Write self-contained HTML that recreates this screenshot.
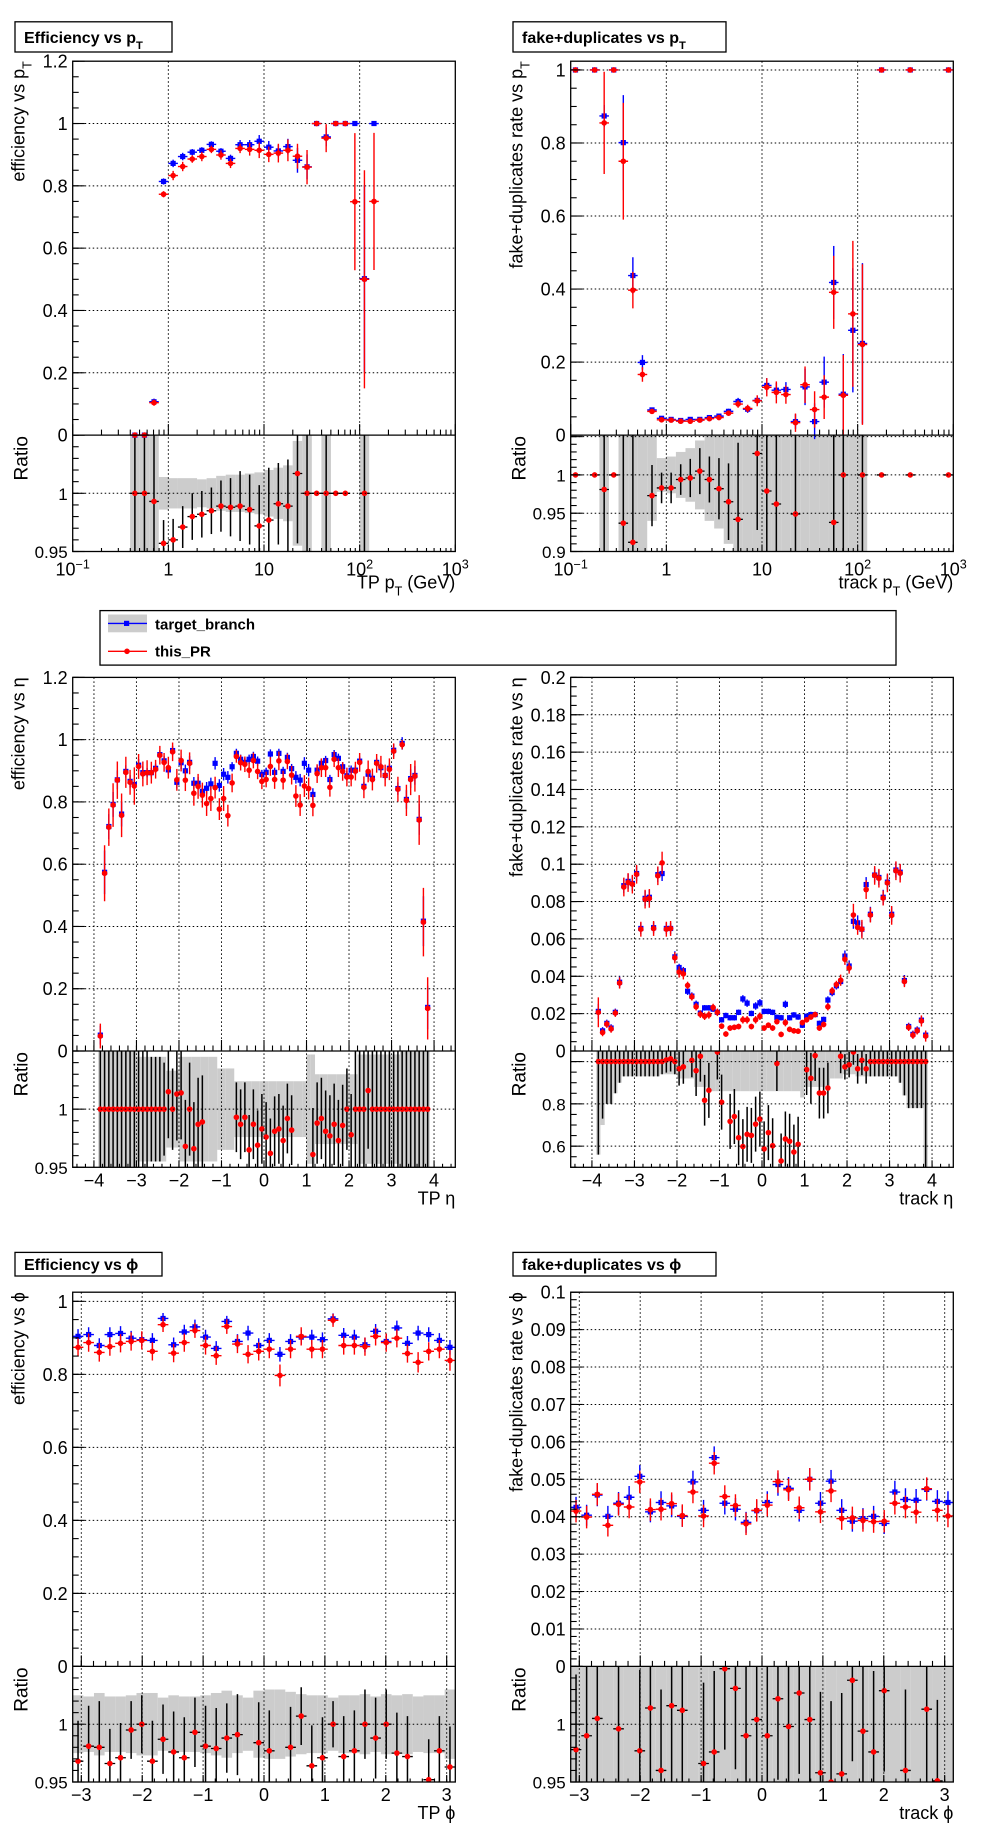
<!DOCTYPE html>
<html><head><meta charset="utf-8">
<style>
html,body{margin:0;padding:0;background:#fff;}
svg{display:block;font-family:"Liberation Sans",sans-serif;}
</style></head>
<body>
<svg id="c" width="996" height="1847" viewBox="0 0 996 1847" xmlns="http://www.w3.org/2000/svg">
<rect x="0" y="0" width="996" height="1847" fill="#fff"/>
</svg>
<script>
// ===== Panel 1: efficiency vs pT =====
const p1LogPt=[-0.35,-0.25,-0.15,-0.05,0.05,0.15,0.25,0.35,0.45,0.55,0.65,0.75,0.85,0.95,1.05,1.15,1.25,1.35,1.45,1.55,1.65,1.75,1.85,1.95,2.05,2.15];
const p1Blue=[0,0,0.107,0.814,0.872,0.894,0.908,0.914,0.933,0.911,0.888,0.932,0.932,0.943,0.924,0.912,0.926,0.882,0.861,1,0.957,1,1,1,0.502,1];
const p1BlueErr=[0,0,0.01,0.01,0.012,0.012,0.01,0.01,0.01,0.01,0.012,0.015,0.015,0.02,0.02,0.02,0.025,0.04,0.04,0,0.03,0,0,0,0.3,0];
const p1Red=[0,0,0.104,0.773,0.833,0.862,0.886,0.894,0.917,0.899,0.872,0.92,0.917,0.914,0.901,0.905,0.914,0.895,0.86,1,0.953,1,1,0.749,0.5,0.75];
const p1RedErr=[0,0,0.01,0.01,0.015,0.015,0.012,0.015,0.012,0.015,0.015,0.015,0.02,0.025,0.025,0.03,0.035,0.04,0.055,0,0.045,0,0,0.22,0.35,0.22];
const p1Ratio=[1,1,0.993,0.957,0.96,0.971,0.98,0.982,0.985,0.989,0.988,0.989,0.986,0.972,0.977,0.991,0.989,1.017,1,1,1,1,1,null,1,null];
const p1RatioErr=[0.06,0.06,0.06,0.02,0.018,0.018,0.02,0.02,0.02,0.022,0.025,0.03,0.03,0.035,0.045,0.035,0.04,0.06,0.06,0,0.06,0,0,0,0.06,0];
const p1Band=[0.06,0.06,0.06,0.014,0.013,0.013,0.013,0.012,0.013,0.015,0.016,0.016,0.017,0.018,0.02,0.022,0.024,0.045,0.06,0,0.06,0,0,0,0.06,0];

// ===== Panel 2: fake+duplicates vs pT =====
const p2LogPt=[-0.95,-0.75,-0.65,-0.55,-0.45,-0.35,-0.25,-0.15,-0.05,0.05,0.15,0.25,0.35,0.45,0.55,0.65,0.75,0.85,0.95,1.05,1.15,1.25,1.35,1.45,1.55,1.65,1.75,1.85,1.95,2.05,2.25,2.55,2.95];
const p2Blue=[1,1,0.874,1,0.801,0.437,0.199,0.069,0.046,0.043,0.040,0.043,0.043,0.048,0.052,0.065,0.092,0.071,0.095,0.136,0.123,0.125,0.037,0.132,0.037,0.145,0.418,0.112,0.287,0.251,1,1,1];
const p2BlueErr=[0,0,0.03,0,0.13,0.05,0.02,0.006,0.004,0.004,0.004,0.004,0.004,0.005,0.006,0.007,0.01,0.01,0.012,0.02,0.02,0.02,0.02,0.05,0.05,0.07,0.1,0.11,0.17,0.22,0,0,0];
const p2Red=[1,1,0.855,1,0.75,0.397,0.166,0.065,0.042,0.041,0.038,0.038,0.041,0.045,0.048,0.060,0.085,0.073,0.094,0.131,0.117,0.111,0.034,0.138,0.070,0.104,0.391,0.109,0.332,0.248,1,1,1];
const p2RedErr=[0,0,0.14,0,0.16,0.05,0.02,0.006,0.004,0.004,0.004,0.004,0.004,0.005,0.006,0.007,0.01,0.01,0.015,0.025,0.03,0.025,0.025,0.05,0.05,0.06,0.1,0.11,0.2,0.22,0,0,0];
const p2Ratio=[1,1,0.981,1,0.937,0.912,null,0.973,0.983,0.983,0.994,0.996,1.005,0.994,0.982,0.965,0.942,null,1.028,0.979,0.962,null,0.949,null,null,null,0.938,1,null,1,1,1,1];
const p2RatioErr=[0,0,0.2,0,0.2,0.2,0.2,0.04,0.02,0.02,0.02,0.025,0.03,0.03,0.04,0.05,0.1,0.1,0.1,0.1,0.1,0.1,0.2,0.2,0.2,0.2,0.2,0.2,0.2,0.2,0,0,0];
const p2Band=[0,0,0.2,0,0.2,0.2,0.2,0.06,0.022,0.024,0.03,0.035,0.045,0.06,0.07,0.09,0.2,0.2,0.2,0.2,0.2,0.2,0.2,0.2,0.2,0.2,0.2,0.2,0.2,0.2,0,0,0];

// ===== Panel 3: efficiency vs eta =====
const p3Eta=[-3.85,-3.75,-3.65,-3.55,-3.45,-3.35,-3.25,-3.15,-3.05,-2.95,-2.85,-2.75,-2.65,-2.55,-2.45,-2.35,-2.25,-2.15,-2.05,-1.95,-1.85,-1.75,-1.65,-1.55,-1.45,-1.35,-1.25,-1.15,-1.05,-0.95,-0.85,-0.75,-0.65,-0.55,-0.45,-0.35,-0.25,-0.15,-0.05,0.05,0.15,0.25,0.35,0.45,0.55,0.65,0.75,0.85,0.95,1.05,1.15,1.25,1.35,1.45,1.55,1.65,1.75,1.85,1.95,2.05,2.15,2.25,2.35,2.45,2.55,2.65,2.75,2.85,2.95,3.05,3.15,3.25,3.35,3.45,3.55,3.65,3.75,3.85];
const p3Blue=[0.051,0.574,0.721,0.792,0.871,0.761,0.898,0.866,0.856,0.918,
0.894,0.894,0.894,0.908,0.952,0.932,0.903,0.965,0.863,0.926,
0.9,0.927,0.86,0.86,0.834,0.844,0.858,0.924,0.853,0.889,
0.879,0.913,0.956,0.937,0.927,0.937,0.946,0.931,0.888,0.895,
0.954,0.895,0.956,0.898,0.943,0.907,0.879,0.87,0.924,0.902,
0.824,0.902,0.924,0.933,0.872,0.952,0.94,0.913,0.884,0.902,
0.902,0.931,0.85,0.889,0.876,0.927,0.91,0.885,0.908,0.966,
0.843,0.988,0.808,0.875,0.885,0.744,0.417,0.14];
const p3BlueErr=[0.03,0.07,0.04,0.04,0.03,0.04,0.02,0.02,0.02,0.02,
0.02,0.015,0.015,0.015,0.015,0.015,0.015,0.015,0.02,0.02,
0.02,0.02,0.02,0.02,0.02,0.02,0.02,0.02,0.02,0.02,
0.02,0.015,0.015,0.015,0.015,0.015,0.015,0.015,0.015,0.015,
0.015,0.015,0.015,0.015,0.015,0.015,0.02,0.02,0.02,0.02,
0.02,0.015,0.015,0.015,0.015,0.015,0.015,0.015,0.015,0.015,
0.015,0.015,0.015,0.015,0.015,0.015,0.015,0.015,0.015,0.02,
0.02,0.02,0.03,0.03,0.03,0.05,0.08,0.07];
const p3Red=[0.048,0.571,0.719,0.79,0.87,0.757,0.895,0.863,0.851,0.914,
0.89,0.894,0.894,0.905,0.95,0.927,0.91,0.961,0.871,0.933,
0.87,0.924,0.828,0.85,0.822,0.795,0.811,0.846,0.777,0.811,
0.756,0.861,0.946,0.926,0.921,0.902,0.933,0.898,0.866,0.872,
0.914,0.872,0.932,0.87,0.93,0.886,0.819,0.79,0.851,0.843,
0.789,0.891,0.91,0.91,0.847,0.937,0.91,0.898,0.88,0.88,
0.899,0.927,0.847,0.898,0.872,0.924,0.913,0.885,0.905,0.963,
0.841,0.984,0.805,0.872,0.883,0.742,0.414,0.137];
const p3RedErr=[0.04,0.09,0.06,0.07,0.06,0.07,0.05,0.04,0.06,0.04,
0.04,0.04,0.035,0.03,0.03,0.03,0.035,0.03,0.035,0.035,
0.035,0.035,0.04,0.04,0.04,0.04,0.04,0.035,0.035,0.04,
0.035,0.03,0.02,0.025,0.025,0.025,0.025,0.025,0.025,0.025,
0.03,0.03,0.03,0.03,0.025,0.03,0.035,0.035,0.035,0.035,
0.035,0.03,0.03,0.03,0.03,0.025,0.03,0.03,0.03,0.03,
0.03,0.03,0.035,0.035,0.035,0.03,0.035,0.035,0.035,0.025,
0.04,0.015,0.05,0.05,0.05,0.08,0.11,0.1];
const p3Ratio=[1,1,1,1,1,1,1,1,1,1,
1,1,1,1,1,1,1.015,1,1.013,1.014,
0.968,1,0.966,0.987,0.989,null,null,null,null,null,
null,null,0.993,0.987,0.993,0.965,0.987,0.969,0.983,0.976,
0.962,0.981,0.983,0.973,0.992,0.982,null,null,null,null,
0.961,0.988,0.992,0.981,0.977,0.987,0.973,0.986,1,0.978,
1,1,1,1.016,1,1,1,1,1,1,
1,1,1,1,1,1,1,1];
const p3RatioErr=[0.06,0.06,0.06,0.06,0.06,0.06,0.06,0.06,0.06,0.06,
0.05,0.05,0.045,0.045,0.045,0.04,0.04,0.035,0.04,0.04,
0.04,0.04,0.04,0.04,0.04,0.04,0.04,0.04,0.04,0.04,
0.035,0.035,0.03,0.03,0.03,0.03,0.03,0.03,0.03,0.03,
0.03,0.03,0.03,0.03,0.03,0.03,0.04,0.04,0.04,0.04,
0.04,0.035,0.035,0.035,0.035,0.035,0.035,0.035,0.035,0.035,
0.05,0.05,0.05,0.05,0.05,0.05,0.05,0.05,0.05,0.05,
0.06,0.06,0.06,0.06,0.06,0.06,0.06,0.06];
const p3Band=[0.06,0.06,0.06,0.06,0.06,0.06,0.06,0.06,0.06,0.045,
0.045,0.045,0.045,0.045,0.045,0.045,0.033,0.033,0.033,0.045,
0.045,0.045,0.045,0.045,0.045,0.045,0.045,0.045,0.035,0.035,
0.035,0.035,0.024,0.024,0.024,0.024,0.024,0.024,0.024,0.024,
0.024,0.024,0.024,0.024,0.024,0.024,0.024,0.024,0.024,0.047,
0.047,0.03,0.03,0.03,0.03,0.03,0.03,0.03,0.03,0.03,
0.03,0.047,0.047,0.047,0.047,0.047,0.047,0.047,0.047,0.047,
0.047,0.06,0.06,0.06,0.06,0.06,0.06,0.06];

// ===== Panel 4: fake+duplicates vs eta =====
const p4Eta=p3Eta.slice();
const p4Blue=[0.0212,0.0108,0.0148,0.0123,0.0207,0.0368,0.0885,0.0908,0.0897,0.095,
0.0656,0.0817,0.0823,0.066,0.0944,0.095,0.0656,0.0656,0.0504,0.0447,
0.043,0.032,0.0294,0.025,0.0203,0.0231,0.0231,0.0224,0.0207,0.0167,
0.019,0.0178,0.0178,0.0207,0.0279,0.0256,0.0201,0.0241,0.0258,0.0212,
0.0212,0.0207,0.018,0.0178,0.025,0.0178,0.0193,0.0182,0.0138,0.0186,
0.0195,0.0195,0.0148,0.0169,0.0273,0.0313,0.0349,0.0372,0.0508,0.0455,
0.0694,0.0686,0.0652,0.0891,0.0732,0.0942,0.0929,0.0823,0.0904,0.0732,
0.0969,0.0957,0.0377,0.0131,0.0089,0.0112,0.0165,0.0085];
const p4BlueErr=[0.004,0.002,0.002,0.002,0.002,0.003,0.004,0.004,0.004,0.004,
0.003,0.004,0.004,0.003,0.004,0.004,0.003,0.003,0.003,0.002,
0.002,0.002,0.002,0.002,0.0015,0.0015,0.0015,0.0015,0.0015,0.0015,
0.0015,0.0015,0.0015,0.0015,0.002,0.002,0.0015,0.002,0.002,0.0015,
0.0015,0.0015,0.0015,0.0015,0.002,0.0015,0.0015,0.0015,0.0015,0.0015,
0.0015,0.0015,0.0015,0.0015,0.002,0.002,0.002,0.002,0.003,0.003,
0.004,0.004,0.004,0.004,0.004,0.004,0.004,0.004,0.004,0.004,
0.004,0.004,0.003,0.002,0.002,0.002,0.002,0.002];
const p4Red=[0.0207,0.0099,0.0144,0.0118,0.0203,0.0364,0.0878,0.0902,0.0893,0.0946,
0.0652,0.0813,0.0817,0.0656,0.0938,0.1007,0.0652,0.0656,0.0499,0.0423,
0.0413,0.0351,0.029,0.0237,0.0197,0.0186,0.0193,0.0233,0.0207,0.0133,
0.0091,0.0123,0.0127,0.0131,0.0167,0.0167,0.0131,0.0167,0.0186,0.0123,
0.0138,0.0123,0.0157,0.0089,0.0152,0.0116,0.0108,0.0106,0.0152,0.0167,
0.0182,0.0195,0.0123,0.0142,0.0237,0.0322,0.0356,0.0379,0.0491,0.0444,
0.0728,0.0662,0.0652,0.0864,0.0728,0.094,0.0925,0.0819,0.09,0.0726,
0.0965,0.0952,0.0372,0.0127,0.0085,0.0108,0.0161,0.008];
const p4RedErr=[0.008,0.002,0.002,0.002,0.002,0.003,0.005,0.005,0.005,0.005,
0.004,0.005,0.005,0.004,0.005,0.006,0.004,0.004,0.003,0.003,
0.003,0.002,0.002,0.002,0.002,0.002,0.002,0.002,0.002,0.0015,
0.0015,0.0015,0.0015,0.0015,0.002,0.002,0.0015,0.002,0.002,0.0015,
0.0015,0.0015,0.0015,0.0015,0.002,0.0015,0.0015,0.0015,0.0015,0.0015,
0.0015,0.0015,0.0015,0.0015,0.002,0.002,0.002,0.003,0.003,0.003,
0.006,0.004,0.005,0.005,0.004,0.005,0.005,0.004,0.005,0.005,
0.005,0.005,0.003,0.002,0.002,0.002,0.003,0.003];
const p4Ratio=[1,1,1,1,1,1,1,1,1,1,
1,1,1,1,1,1,1.008,1.013,1,0.966,
0.975,null,1.006,0.957,1.025,0.817,0.864,null,1.045,0.808,
null,0.717,0.74,0.64,0.598,0.656,0.651,0.704,0.728,0.587,
0.664,0.602,0.991,0.53,0.634,0.623,0.572,0.609,null,0.962,
0.921,1.028,0.851,0.851,0.875,null,null,1.025,0.975,0.985,
1.045,0.966,1.006,0.966,1,1,1,1,1,1,
1,1,1,1,1,1,1,1];
const p4RatioErr=[0.44,0.27,0.2,0.2,0.15,0.1,0.07,0.07,0.07,0.07,
0.07,0.07,0.07,0.07,0.07,0.06,0.06,0.06,0.06,0.08,
0.08,0.08,0.08,0.12,0.12,0.12,0.13,0.13,0.13,0.13,
0.13,0.13,0.13,0.13,0.13,0.13,0.13,0.13,0.13,0.13,
0.13,0.13,0.13,0.13,0.13,0.13,0.13,0.13,0.15,0.12,
0.12,0.12,0.12,0.12,0.12,0.08,0.08,0.08,0.06,0.06,
0.06,0.07,0.07,0.07,0.07,0.07,0.07,0.07,0.07,0.07,
0.07,0.1,0.16,0.22,0.22,0.22,0.22,0.5];
const p4Band=[0.44,0.3,0.2,0.2,0.15,0.1,0.07,0.07,0.07,0.07,
0.07,0.07,0.07,0.07,0.07,0.06,0.06,0.06,0.06,0.08,
0.08,0.08,0.08,0.12,0.12,0.12,0.14,0.14,0.14,0.14,
0.14,0.14,0.14,0.14,0.14,0.14,0.14,0.14,0.14,0.14,
0.14,0.14,0.14,0.14,0.14,0.14,0.14,0.14,0.17,0.12,
0.12,0.12,0.12,0.12,0.12,0.08,0.08,0.08,0.06,0.06,
0.06,0.07,0.07,0.07,0.07,0.07,0.07,0.07,0.07,0.07,
0.07,0.1,0.16,0.22,0.22,0.22,0.22,0.5];

// ===== Panel 5: efficiency vs phi =====
const p5Phi=[-3.054,-2.880,-2.705,-2.531,-2.356,-2.182,-2.007,-1.833,-1.658,-1.484,-1.309,-1.134,-0.960,-0.785,-0.611,-0.436,-0.262,-0.087,0.087,0.262,0.436,0.611,0.785,0.960,1.134,1.309,1.484,1.658,1.833,2.007,2.182,2.356,2.531,2.705,2.880,3.054];
const p5Blue=[0.904,0.909,0.879,0.909,0.912,0.899,0.895,0.893,0.953,0.881,0.916,0.93,0.902,0.871,0.945,0.89,0.913,0.879,0.893,0.855,0.89,0.902,0.902,0.895,0.952,0.907,0.902,0.881,0.918,0.89,0.927,0.885,0.913,0.909,0.893,0.874];
const p5BlueErr=[0.02,0.02,0.02,0.02,0.02,0.02,0.02,0.02,0.015,0.02,0.02,0.02,0.02,0.02,0.015,0.02,0.02,0.02,0.02,0.02,0.02,0.02,0.02,0.02,0.015,0.02,0.02,0.02,0.02,0.02,0.02,0.02,0.02,0.02,0.02,0.02];
const p5Red=[0.874,0.887,0.86,0.876,0.885,0.89,0.893,0.863,0.936,0.858,0.887,0.92,0.879,0.851,0.931,0.883,0.855,0.863,0.869,0.797,0.869,0.904,0.869,0.869,0.948,0.879,0.879,0.876,0.904,0.887,0.899,0.857,0.833,0.863,0.869,0.838];
const p5RedErr=[0.025,0.025,0.025,0.025,0.025,0.025,0.025,0.025,0.02,0.025,0.025,0.02,0.025,0.025,0.02,0.025,0.025,0.025,0.025,0.03,0.025,0.025,0.025,0.025,0.018,0.025,0.025,0.025,0.025,0.025,0.025,0.025,0.028,0.025,0.025,0.028];
const p5Ratio=[0.968,0.981,0.98,0.966,0.971,0.995,1,0.968,0.987,0.976,0.971,0.993,0.981,0.979,0.988,0.991,null,0.984,0.977,null,0.98,1.007,0.964,0.971,1,0.972,0.977,1,0.988,1,0.975,0.972,null,0.952,0.977,0.963];
const p5RatioErr=[0.035,0.035,0.04,0.03,0.03,0.025,0.025,0.035,0.03,0.035,0.035,0.03,0.035,0.035,0.03,0.035,0.035,0.035,0.035,0.035,0.035,0.025,0.035,0.035,0.02,0.035,0.035,0.03,0.035,0.03,0.035,0.035,0.035,0.035,0.03,0.035];
const p5Band=[0.025,0.024,0.027,0.024,0.024,0.025,0.027,0.027,0.023,0.025,0.024,0.024,0.025,0.027,0.029,0.025,0.023,0.029,0.03,0.03,0.028,0.026,0.025,0.025,0.023,0.025,0.025,0.026,0.024,0.026,0.025,0.026,0.024,0.025,0.025,0.03];

// ===== Panel 6: fake+duplicates vs phi =====
const p6Phi=p5Phi.slice();
const p6Blue=[0.0425,0.0404,0.0458,0.0401,0.0436,0.0452,0.0508,0.0413,0.0438,0.0429,0.0401,0.0493,0.0417,0.0558,0.0436,0.042,0.0385,0.0416,0.0438,0.0486,0.0476,0.0417,0.05,0.0436,0.0495,0.0417,0.0388,0.0395,0.0401,0.0382,0.0466,0.0446,0.0444,0.0473,0.0441,0.0438];
const p6BlueErr=[0.0028,0.0028,0.003,0.0028,0.003,0.003,0.003,0.0028,0.003,0.003,0.0028,0.003,0.0028,0.003,0.003,0.003,0.0028,0.0028,0.003,0.003,0.003,0.003,0.003,0.003,0.003,0.003,0.0028,0.0028,0.0028,0.0028,0.003,0.003,0.003,0.003,0.003,0.003];
const p6Red=[0.0415,0.0399,0.046,0.0377,0.0433,0.0426,0.0493,0.0419,0.042,0.0435,0.0403,0.0466,0.0402,0.0543,0.0454,0.043,0.0381,0.0417,0.0431,0.0494,0.0472,0.0424,0.05,0.0413,0.0469,0.0395,0.0397,0.039,0.0387,0.0388,0.0436,0.0426,0.0412,0.0475,0.0417,0.0402];
const p6RedErr=[0.003,0.003,0.003,0.003,0.003,0.003,0.003,0.003,0.003,0.003,0.003,0.003,0.003,0.003,0.003,0.003,0.003,0.003,0.003,0.003,0.003,0.003,0.003,0.003,0.003,0.003,0.003,0.003,0.003,0.003,0.003,0.003,0.003,0.003,0.003,0.003];
const p6Ratio=[0.978,0.99,1.005,null,0.996,null,0.977,1.014,0.96,1.016,1.012,null,0.966,0.976,1.048,1.031,0.99,1.004,0.99,1.022,0.998,1.027,1.004,0.958,0.95,0.957,1.038,0.994,0.976,1.029,null,0.96,null,1.013,0.951,null];
const p6RatioErr=[0.065,0.07,0.07,0.07,0.07,0.07,0.07,0.07,0.07,0.07,0.07,0.07,0.07,0.07,0.07,0.07,0.07,0.07,0.07,0.07,0.07,0.07,0.07,0.07,0.07,0.07,0.07,0.07,0.07,0.07,0.07,0.07,0.07,0.07,0.07,0.07];
const p6Band=[0.06,0.06,0.06,0.06,0.06,0.06,0.06,0.06,0.06,0.06,0.06,0.06,0.06,0.06,0.06,0.06,0.06,0.06,0.06,0.06,0.06,0.06,0.06,0.06,0.06,0.06,0.06,0.06,0.06,0.06,0.06,0.06,0.06,0.06,0.06,0.06];

const NS='http://www.w3.org/2000/svg';
const svg=document.getElementById('c');
function mk(tag,attrs,parent){const e=document.createElementNS(NS,tag);for(const k in attrs)e.setAttribute(k,attrs[k]);parent.appendChild(e);return e;}
function fmt(v){let s=parseFloat(v.toFixed(4)).toString();if(s.startsWith('-'))s='\u2212'+s.slice(1);return s;}
function ticks(min,max,step){const out=[];const a=Math.ceil(min/step-1e-6),b=Math.floor(max/step+1e-6);for(let k=a;k<=b;k++)out.push(k*step);return out;}
let clipId=0;

function addSubText(parent,x,y,parts,attrs){
  const t=mk('text',Object.assign({x:x,y:y},attrs),parent);
  parts.forEach(p=>{const s=mk('tspan',{},t);if(p[1]==='sub'){s.setAttribute('baseline-shift','sub');s.setAttribute('font-size','70%');}if(p[1]==='sup'){s.setAttribute('baseline-shift','super');s.setAttribute('font-size','70%');}s.textContent=p[0];});
  return t;
}

function drawPanel(p){
  const g=mk('g',{},svg);
  
  
  const X=v=>p.fx0+(v-p.xmin)/(p.xmax-p.xmin)*(p.fx1-p.fx0);
  const Y=v=>p.yS-(v-p.ymin)/(p.ymax-p.ymin)*(p.yS-p.yT);
  const R=v=>p.yB-(v-p.rmin)/(p.rmax-p.rmin)*(p.yB-p.yS);
  const cm='cm'+(clipId++), cr='cr'+(clipId++);
  const defs=mk('defs',{},g);
  const c1=mk('clipPath',{id:cm},defs);mk('rect',{x:p.fx0,y:p.yT,width:p.fx1-p.fx0,height:p.yS-p.yT+4},c1);
  const c2=mk('clipPath',{id:cr},defs);mk('rect',{x:p.fx0,y:p.yS,width:p.fx1-p.fx0,height:p.yB-p.yS},c2);

  // x major/minor
  let xMaj, xMin;
  if(p.log){xMaj=ticks(p.xmin,p.xmax,1);xMin=[];for(let d=Math.floor(p.xmin);d<p.xmax;d++)for(let m=2;m<=9;m++)xMin.push(d+Math.log10(m));}
  else{xMaj=ticks(p.xmin,p.xmax,p.xMajor);xMin=ticks(p.xmin,p.xmax,p.xMinor);}

  // ratio band
  const gr=mk('g',{'clip-path':'url(#'+cr+')'},g);
  
  
  p.xc.forEach((xv,i)=>{const h=p.band[i];if(!h)return;
    const b=mk('rect',{x:X(xv-p.hw),y:R(1+h),width:X(xv+p.hw)-X(xv-p.hw),height:R(1-h)-R(1+h),fill:'#cccccc'},gr);
    
    });
  // grids
  const gg=mk('g',{stroke:'#000','stroke-width':1,'stroke-dasharray':'1.5,2.5',fill:'none'},g);
  
  
  xMaj.forEach(v=>{if(v<=p.xmin+1e-6||v>=p.xmax-1e-6)return;mk('line',{x1:X(v),x2:X(v),y1:p.yT,y2:p.yB},gg);});
  ticks(p.ymin,p.ymax,p.yMajor).forEach(v=>{if(v<=p.ymin+1e-6||v>=p.ymax-1e-6)return;mk('line',{x1:p.fx0,x2:p.fx1,y1:Y(v),y2:Y(v)},gg);});
  ticks(p.rmin,p.rmax,p.rMajor).forEach(v=>{if(v<=p.rmin+1e-6||v>=p.rmax-1e-6)return;mk('line',{x1:p.fx0,x2:p.fx1,y1:R(v),y2:R(v)},gg);});

  // main series
  const gm=mk('g',{'clip-path':'url(#'+cm+')'},g);
  
  
  const sb=mk('g',{stroke:'#0000ff','stroke-width':1.4},gm);
  
  
  p.xc.forEach((xv,i)=>{const v=p.blue[i];if(v==null)return;const x=X(xv),y=Y(v),e=p.blueErr[i];
    mk('line',{x1:X(xv-p.hw),x2:X(xv+p.hw),y1:y,y2:y},sb);
    if(e)mk('line',{x1:x,x2:x,y1:Y(v+e),y2:Y(v-e)},sb);
    const m=mk('rect',{x:x-2.6,y:y-2.6,width:5.2,height:5.2,fill:'#0000ff',stroke:'none'},sb);
    
    });
  const sr=mk('g',{stroke:'#ff0000','stroke-width':1.4},gm);
  
  
  p.xc.forEach((xv,i)=>{const v=p.red[i];if(v==null)return;const x=X(xv),y=Y(v),e=p.redErr[i];
    mk('line',{x1:X(xv-p.hw),x2:X(xv+p.hw),y1:y,y2:y},sr);
    if(e)mk('line',{x1:x,x2:x,y1:Y(v+e),y2:Y(v-e)},sr);
    const m=mk('circle',{cx:x,cy:y,r:2.8,fill:'#ff0000',stroke:'none'},sr);
    
    });

  // ratio points
  const rp=mk('g',{},gr);
  
  
  p.xc.forEach((xv,i)=>{const v=p.ratio[i];if(v==null)return;const x=X(xv),y=R(v),e=p.ratioErr[i];
    mk('line',{x1:X(xv-p.hw),x2:X(xv+p.hw),y1:y,y2:y,stroke:'#000','stroke-width':1.3},rp);
    if(e)mk('line',{x1:x,x2:x,y1:R(v+e),y2:R(v-e),stroke:'#000','stroke-width':1.5},rp);
    const m=mk('circle',{cx:x,cy:y,r:2.8,fill:'#ff0000'},rp);
    
    });

  // frames
  const fr=mk('rect',{x:p.fx0,y:p.yT,width:p.fx1-p.fx0,height:p.yB-p.yT,fill:'none',stroke:'#000','stroke-width':1.3},g);
  
  
  mk('line',{x1:p.fx0,x2:p.fx1,y1:p.yS,y2:p.yS,stroke:'#000','stroke-width':1.3},g);

  // ticks
  const tk=mk('g',{stroke:'#000','stroke-width':1.1},g);
  
  
  xMaj.forEach(v=>{const x=X(v);mk('line',{x1:x,x2:x,y1:p.yS,y2:p.yS-11},tk);mk('line',{x1:x,x2:x,y1:p.yB,y2:p.yB-7},tk);});
  xMin.forEach(v=>{if(v<p.xmin||v>p.xmax)return;const x=X(v);mk('line',{x1:x,x2:x,y1:p.yS,y2:p.yS-5.5},tk);mk('line',{x1:x,x2:x,y1:p.yB,y2:p.yB-3.5},tk);});
  ticks(p.ymin,p.ymax,p.yMajor).forEach(v=>mk('line',{x1:p.fx0,x2:p.fx0+12,y1:Y(v),y2:Y(v)},tk));
  ticks(p.ymin,p.ymax,p.yMinor).forEach(v=>mk('line',{x1:p.fx0,x2:p.fx0+6,y1:Y(v),y2:Y(v)},tk));
  ticks(p.rmin,p.rmax,p.rMajor).forEach(v=>mk('line',{x1:p.fx0,x2:p.fx0+12,y1:R(v),y2:R(v)},tk));
  ticks(p.rmin,p.rmax,p.rMinor).forEach(v=>mk('line',{x1:p.fx0,x2:p.fx0+6,y1:R(v),y2:R(v)},tk));

  // labels
  const lb=mk('g',{'font-size':18,fill:'#000'},g);
  
  
  ticks(p.ymin,p.ymax,p.yMajor).forEach(v=>{const t=mk('text',{x:p.fx0-5,y:Y(v)+6.5,'text-anchor':'end'},lb);t.textContent=fmt(v);});
  ticks(p.rmin,p.rmax,p.rMajor).forEach(v=>{if(v>p.rmax-p.rMajor*0.5)return;const t=mk('text',{x:p.fx0-5,y:R(v)+6.5,'text-anchor':'end','font-size':17},lb);t.textContent=fmt(v);});
  xMaj.forEach(v=>{const x=X(v);
    if(p.log){let parts;if(v===0)parts=[['1','']];else if(v===1)parts=[['10','']];else parts=[['10',''],[fmt(v),'sup']];
      addSubText(lb,x,p.yB+24,parts,{'text-anchor':'middle'});}
    else{const t=mk('text',{x:x,y:p.yB+19,'text-anchor':'middle'},lb);t.textContent=fmt(v);}});
  // axis titles
  const xt=addSubText(g,p.fx1,p.yB+37,p.xTitle,{'text-anchor':'end','font-size':18});
  
  
  const yt=addSubText(g,0,0,p.yTitle,{'text-anchor':'end','font-size':18,transform:'translate('+(p.fx0-48)+','+p.yT+') rotate(-90)'});
  
  
  const rt=mk('text',{'text-anchor':'end','font-size':19,transform:'translate('+(p.fx0-45)+','+(p.yS+1)+') rotate(-90)'},g);
  rt.textContent='Ratio';
  
  
}

function titleBox(x,y,w,h,parts,name){
  const g=mk('g',{},svg);
  
  
  mk('rect',{x:x,y:y,width:w,height:h,fill:'#fff',stroke:'#000','stroke-width':1.3},g);
  addSubText(g,x+9,y+h/2+6,parts,{'font-size':16,'font-weight':'bold'});
}

const L={fx0:72.7,fx1:455.3}, Rt={fx0:570.7,fx1:953.3};
const r1={yT:61.2,yS:435.1,yB:551.5}, r2={yT:677.4,yS:1051,yB:1167.3}, r3={yT:1292.2,yS:1666.4,yB:1782};

drawPanel(Object.assign({name:'panel-efficiency-vs-pt',log:true,xmin:-1,xmax:3,ymin:0,ymax:1.2,yMajor:0.2,yMinor:0.05,rmin:0.95,rmax:1.05,rMajor:0.05,rMinor:0.01,
 xc:p1LogPt,hw:0.05,blue:p1Blue,blueErr:p1BlueErr,red:p1Red,redErr:p1RedErr,ratio:p1Ratio,ratioErr:p1RatioErr,band:p1Band,
 xTitle:[['TP p',''],['T','sub'],[' (GeV)','']],yTitle:[['efficiency vs p',''],['T','sub']]},L,r1));
drawPanel(Object.assign({name:'panel-fake-vs-pt',log:true,xmin:-1,xmax:3,ymin:0,ymax:1.024,yMajor:0.2,yMinor:0.05,rmin:0.9,rmax:1.052,rMajor:0.05,rMinor:0.01,
 xc:p2LogPt,hw:0.05,blue:p2Blue,blueErr:p2BlueErr,red:p2Red,redErr:p2RedErr,ratio:p2Ratio,ratioErr:p2RatioErr,band:p2Band,
 xTitle:[['track p',''],['T','sub'],[' (GeV)','']],yTitle:[['fake+duplicates rate vs p',''],['T','sub']]},Rt,r1));
drawPanel(Object.assign({name:'panel-efficiency-vs-eta',log:false,xmin:-4.5,xmax:4.5,xMajor:1,xMinor:0.2,ymin:0,ymax:1.2,yMajor:0.2,yMinor:0.05,rmin:0.95,rmax:1.05,rMajor:0.05,rMinor:0.01,
 xc:p3Eta,hw:0.05,blue:p3Blue,blueErr:p3BlueErr,red:p3Red,redErr:p3RedErr,ratio:p3Ratio,ratioErr:p3RatioErr,band:p3Band,
 xTitle:[['TP \u03b7','']],yTitle:[['efficiency vs  \u03b7','']]},L,r2));
drawPanel(Object.assign({name:'panel-fake-vs-eta',log:false,xmin:-4.5,xmax:4.5,xMajor:1,xMinor:0.2,ymin:0,ymax:0.2,yMajor:0.02,yMinor:0.005,rmin:0.5,rmax:1.05,rMajor:0.2,rMinor:0.05,
 xc:p4Eta,hw:0.05,blue:p4Blue,blueErr:p4BlueErr,red:p4Red,redErr:p4RedErr,ratio:p4Ratio,ratioErr:p4RatioErr,band:p4Band,
 xTitle:[['track  \u03b7','']],yTitle:[['fake+duplicates rate vs  \u03b7','']]},Rt,r2));
drawPanel(Object.assign({name:'panel-efficiency-vs-phi',log:false,xmin:-3.1416,xmax:3.1416,xMajor:1,xMinor:0.2,ymin:0,ymax:1.025,yMajor:0.2,yMinor:0.05,rmin:0.95,rmax:1.05,rMajor:0.05,rMinor:0.01,
 xc:p5Phi,hw:0.0873,blue:p5Blue,blueErr:p5BlueErr,red:p5Red,redErr:p5RedErr,ratio:p5Ratio,ratioErr:p5RatioErr,band:p5Band,
 xTitle:[['TP \u03d5','']],yTitle:[['efficiency vs  \u03d5','']]},L,r3));
drawPanel(Object.assign({name:'panel-fake-vs-phi',log:false,xmin:-3.1416,xmax:3.1416,xMajor:1,xMinor:0.2,ymin:0,ymax:0.1,yMajor:0.01,yMinor:0.002,rmin:0.95,rmax:1.05,rMajor:0.05,rMinor:0.01,
 xc:p6Phi,hw:0.0873,blue:p6Blue,blueErr:p6BlueErr,red:p6Red,redErr:p6RedErr,ratio:p6Ratio,ratioErr:p6RatioErr,band:p6Band,
 xTitle:[['track  \u03d5','']],yTitle:[['fake+duplicates rate vs  \u03d5','']]},Rt,r3));

titleBox(15,21.8,157,30.2,[['Efficiency vs p',''],['T','sub']],'title-efficiency-vs-pt');
titleBox(513,21.8,213,30.2,[['fake+duplicates vs p',''],['T','sub']],'title-fake-vs-pt');
titleBox(15,1252.4,147,23.6,[['Efficiency vs \u03d5','']],'title-efficiency-vs-phi');
titleBox(513,1252.4,203,23.6,[['fake+duplicates vs \u03d5','']],'title-fake-vs-phi');

// legend
const lg=mk('g',{},svg);


mk('rect',{x:100,y:610.6,width:796,height:54.5,fill:'#fff',stroke:'#000','stroke-width':1.3},lg);
const le1=mk('g',{},lg);


mk('rect',{x:108,y:614.5,width:39,height:17.8,fill:'#cccccc'},le1);
mk('line',{x1:108,x2:147,y1:623.4,y2:623.4,stroke:'#0000ff','stroke-width':1.4},le1);
mk('rect',{x:124,y:620.8,width:5.2,height:5.2,fill:'#0000ff'},le1);
const lt1=mk('text',{x:155,y:629.5,'font-size':15,'font-weight':'bold'},le1);lt1.textContent='target_branch';
const le2=mk('g',{},lg);


mk('line',{x1:108,x2:147,y1:651.3,y2:651.3,stroke:'#ff0000','stroke-width':1.4},le2);
mk('circle',{cx:127,cy:651.3,r:2.8,fill:'#ff0000'},le2);
const lt2=mk('text',{x:155,y:656.5,'font-size':15,'font-weight':'bold'},le2);lt2.textContent='this_PR';
</script>
</body></html>
